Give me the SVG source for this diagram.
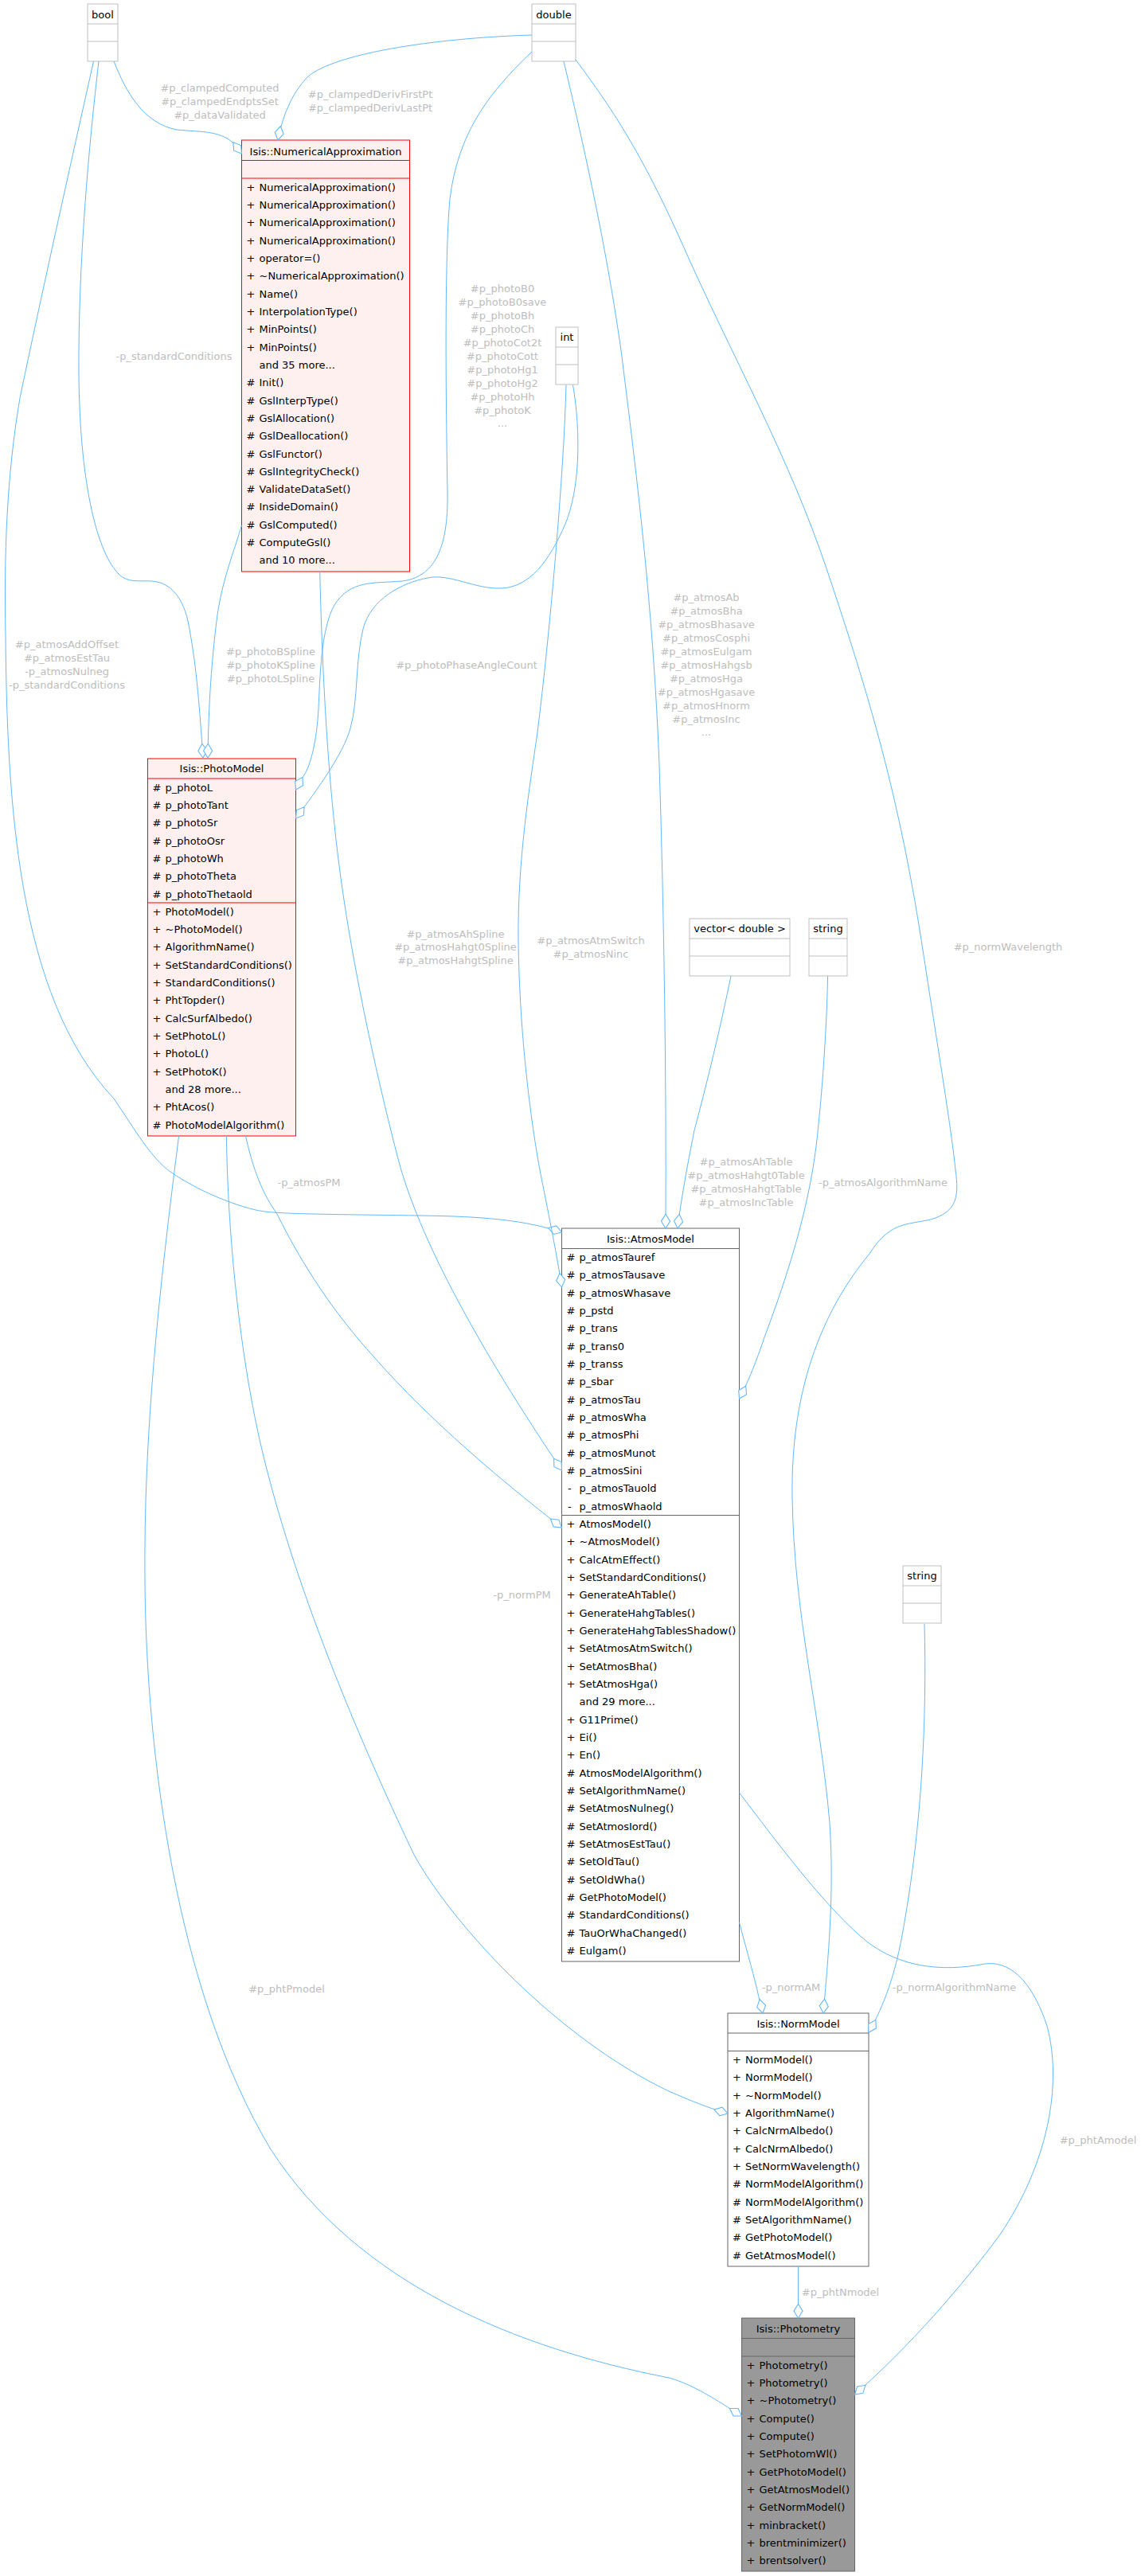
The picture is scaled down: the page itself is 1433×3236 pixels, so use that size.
<svg xmlns="http://www.w3.org/2000/svg" width="1433" height="3236" viewBox="0 0 1433 3236">
<defs>
<style>
text{font-family:"DejaVu Sans","Liberation Sans",sans-serif;font-size:13px;fill:#000}
.c{text-anchor:middle}
.l{fill:#bdbdbd;text-anchor:middle}
.ls{fill:#bdbdbd}
.tb{fill:#fff;stroke:#bfbfbf;stroke-width:1}
.tl{stroke:#bfbfbf;stroke-width:1}
.rb{fill:#fff0f0;stroke:#ff0000;stroke-width:1}
.rl{stroke:#ff0000;stroke-width:1}
.gb{fill:#fff;stroke:#666;stroke-width:1}
.gl{stroke:#666;stroke-width:1}
.pb{fill:#999;stroke:#666;stroke-width:1}
.e{fill:none;stroke:#63b8ff;stroke-width:1;marker-end:url(#od)}
</style>
<marker id="od" markerUnits="userSpaceOnUse" markerWidth="20" markerHeight="14" refX="17" refY="6" orient="auto" viewBox="0 0 18 12">
<path d="M1,6 L9,1 L17,6 L9,11 Z" fill="#fff" stroke="#63b8ff" stroke-width="1"/>
</marker>
</defs>
<rect width="1433" height="3236" fill="#fff"/>

<g id="node-bool">
<rect class="tb" x="110" y="5" width="38" height="72"/>
<line class="tl" x1="110" y1="30" x2="148" y2="30"/><line class="tl" x1="110" y1="52" x2="148" y2="52"/>
<text class="c" x="129" y="23">bool</text>
</g>
<g id="node-double">
<rect class="tb" x="668" y="5" width="55" height="72"/>
<line class="tl" x1="668" y1="30" x2="723" y2="30"/><line class="tl" x1="668" y1="52" x2="723" y2="52"/>
<text class="c" x="695.5" y="23">double</text>
</g>
<g id="node-int">
<rect class="tb" x="698" y="411" width="28" height="72"/>
<line class="tl" x1="698" y1="436" x2="726" y2="436"/><line class="tl" x1="698" y1="458" x2="726" y2="458"/>
<text class="c" x="712" y="428">int</text>
</g>
<g id="node-vector">
<rect class="tb" x="866" y="1154" width="126" height="72"/>
<line class="tl" x1="866" y1="1179" x2="992" y2="1179"/><line class="tl" x1="866" y1="1201" x2="992" y2="1201"/>
<text class="c" x="929" y="1171">vector&lt; double &gt;</text>
</g>
<g id="node-string1">
<rect class="tb" x="1016" y="1154" width="48" height="72"/>
<line class="tl" x1="1016" y1="1179" x2="1064" y2="1179"/><line class="tl" x1="1016" y1="1201" x2="1064" y2="1201"/>
<text class="c" x="1040" y="1171">string</text>
</g>
<g id="node-string2">
<rect class="tb" x="1134" y="1967" width="48" height="72"/>
<line class="tl" x1="1134" y1="1992" x2="1182" y2="1992"/><line class="tl" x1="1134" y1="2014" x2="1182" y2="2014"/>
<text class="c" x="1158" y="1984">string</text>
</g>

<g id="node-NumericalApproximation">
<rect class="rb" x="303.5" y="176" width="211" height="542"/>
<line class="rl" x1="303.5" y1="201.5" x2="514.5" y2="201.5"/><line class="rl" x1="303.5" y1="224" x2="514.5" y2="224"/>
<text class="c" x="409" y="195">Isis::NumericalApproximation</text>
<text x="309.5" y="239.5">+</text><text x="325.5" y="239.5">NumericalApproximation()</text>
<text x="309.5" y="261.8">+</text><text x="325.5" y="261.8">NumericalApproximation()</text>
<text x="309.5" y="284.2">+</text><text x="325.5" y="284.2">NumericalApproximation()</text>
<text x="309.5" y="306.5">+</text><text x="325.5" y="306.5">NumericalApproximation()</text>
<text x="309.5" y="328.8">+</text><text x="325.5" y="328.8">operator=()</text>
<text x="309.5" y="351.2">+</text><text x="325.5" y="351.2">~NumericalApproximation()</text>
<text x="309.5" y="373.5">+</text><text x="325.5" y="373.5">Name()</text>
<text x="309.5" y="395.8">+</text><text x="325.5" y="395.8">InterpolationType()</text>
<text x="309.5" y="418.1">+</text><text x="325.5" y="418.1">MinPoints()</text>
<text x="309.5" y="440.5">+</text><text x="325.5" y="440.5">MinPoints()</text>
<text x="325.5" y="462.8">and 35 more...</text>
<text x="309.5" y="485.1">#</text><text x="325.5" y="485.1">Init()</text>
<text x="309.5" y="507.5">#</text><text x="325.5" y="507.5">GslInterpType()</text>
<text x="309.5" y="529.8">#</text><text x="325.5" y="529.8">GslAllocation()</text>
<text x="309.5" y="552.1">#</text><text x="325.5" y="552.1">GslDeallocation()</text>
<text x="309.5" y="574.5">#</text><text x="325.5" y="574.5">GslFunctor()</text>
<text x="309.5" y="596.8">#</text><text x="325.5" y="596.8">GslIntegrityCheck()</text>
<text x="309.5" y="619.1">#</text><text x="325.5" y="619.1">ValidateDataSet()</text>
<text x="309.5" y="641.4">#</text><text x="325.5" y="641.4">InsideDomain()</text>
<text x="309.5" y="663.8">#</text><text x="325.5" y="663.8">GslComputed()</text>
<text x="309.5" y="686.1">#</text><text x="325.5" y="686.1">ComputeGsl()</text>
<text x="325.5" y="708.4">and 10 more...</text>
</g>

<g id="node-PhotoModel">
<rect class="rb" x="185.5" y="953" width="186" height="474"/>
<line class="rl" x1="185.5" y1="978" x2="371.5" y2="978"/><line class="rl" x1="185.5" y1="1134" x2="371.5" y2="1134"/>
<text class="c" x="278.5" y="970">Isis::PhotoModel</text>
<text x="191.5" y="993.5">#</text><text x="207.5" y="993.5">p_photoL</text>
<text x="191.5" y="1015.8">#</text><text x="207.5" y="1015.8">p_photoTant</text>
<text x="191.5" y="1038.2">#</text><text x="207.5" y="1038.2">p_photoSr</text>
<text x="191.5" y="1060.5">#</text><text x="207.5" y="1060.5">p_photoOsr</text>
<text x="191.5" y="1082.8">#</text><text x="207.5" y="1082.8">p_photoWh</text>
<text x="191.5" y="1105.2">#</text><text x="207.5" y="1105.2">p_photoTheta</text>
<text x="191.5" y="1127.5">#</text><text x="207.5" y="1127.5">p_photoThetaold</text>
<text x="191.5" y="1149.5">+</text><text x="207.5" y="1149.5">PhotoModel()</text>
<text x="191.5" y="1171.8">+</text><text x="207.5" y="1171.8">~PhotoModel()</text>
<text x="191.5" y="1194.2">+</text><text x="207.5" y="1194.2">AlgorithmName()</text>
<text x="191.5" y="1216.5">+</text><text x="207.5" y="1216.5">SetStandardConditions()</text>
<text x="191.5" y="1238.8">+</text><text x="207.5" y="1238.8">StandardConditions()</text>
<text x="191.5" y="1261.2">+</text><text x="207.5" y="1261.2">PhtTopder()</text>
<text x="191.5" y="1283.5">+</text><text x="207.5" y="1283.5">CalcSurfAlbedo()</text>
<text x="191.5" y="1305.8">+</text><text x="207.5" y="1305.8">SetPhotoL()</text>
<text x="191.5" y="1328.1">+</text><text x="207.5" y="1328.1">PhotoL()</text>
<text x="191.5" y="1350.5">+</text><text x="207.5" y="1350.5">SetPhotoK()</text>
<text x="207.5" y="1372.8">and 28 more...</text>
<text x="191.5" y="1395.1">+</text><text x="207.5" y="1395.1">PhtAcos()</text>
<text x="191.5" y="1417.5">#</text><text x="207.5" y="1417.5">PhotoModelAlgorithm()</text>
</g>

<g id="node-AtmosModel">
<rect class="gb" x="705.5" y="1543" width="223" height="921"/>
<line class="gl" x1="705.5" y1="1568.5" x2="928.5" y2="1568.5"/><line class="gl" x1="705.5" y1="1903.5" x2="928.5" y2="1903.5"/>
<text class="c" x="817" y="1560.5">Isis::AtmosModel</text>
<text x="711.5" y="1584">#</text><text x="727.5" y="1584">p_atmosTauref</text>
<text x="711.5" y="1606.3">#</text><text x="727.5" y="1606.3">p_atmosTausave</text>
<text x="711.5" y="1628.7">#</text><text x="727.5" y="1628.7">p_atmosWhasave</text>
<text x="711.5" y="1651">#</text><text x="727.5" y="1651">p_pstd</text>
<text x="711.5" y="1673.3">#</text><text x="727.5" y="1673.3">p_trans</text>
<text x="711.5" y="1695.7">#</text><text x="727.5" y="1695.7">p_trans0</text>
<text x="711.5" y="1718">#</text><text x="727.5" y="1718">p_transs</text>
<text x="711.5" y="1740.3">#</text><text x="727.5" y="1740.3">p_sbar</text>
<text x="711.5" y="1762.6">#</text><text x="727.5" y="1762.6">p_atmosTau</text>
<text x="711.5" y="1785">#</text><text x="727.5" y="1785">p_atmosWha</text>
<text x="711.5" y="1807.3">#</text><text x="727.5" y="1807.3">p_atmosPhi</text>
<text x="711.5" y="1829.6">#</text><text x="727.5" y="1829.6">p_atmosMunot</text>
<text x="711.5" y="1852">#</text><text x="727.5" y="1852">p_atmosSini</text>
<text x="713" y="1874.3">-</text><text x="727.5" y="1874.3">p_atmosTauold</text>
<text x="713" y="1896.6">-</text><text x="727.5" y="1896.6">p_atmosWhaold</text>
<text x="711.5" y="1919">+</text><text x="727.5" y="1919">AtmosModel()</text>
<text x="711.5" y="1941.3">+</text><text x="727.5" y="1941.3">~AtmosModel()</text>
<text x="711.5" y="1963.7">+</text><text x="727.5" y="1963.7">CalcAtmEffect()</text>
<text x="711.5" y="1986">+</text><text x="727.5" y="1986">SetStandardConditions()</text>
<text x="711.5" y="2008.3">+</text><text x="727.5" y="2008.3">GenerateAhTable()</text>
<text x="711.5" y="2030.7">+</text><text x="727.5" y="2030.7">GenerateHahgTables()</text>
<text x="711.5" y="2053">+</text><text x="727.5" y="2053">GenerateHahgTablesShadow()</text>
<text x="711.5" y="2075.3">+</text><text x="727.5" y="2075.3">SetAtmosAtmSwitch()</text>
<text x="711.5" y="2097.6">+</text><text x="727.5" y="2097.6">SetAtmosBha()</text>
<text x="711.5" y="2120">+</text><text x="727.5" y="2120">SetAtmosHga()</text>
<text x="727.5" y="2142.3">and 29 more...</text>
<text x="711.5" y="2164.6">+</text><text x="727.5" y="2164.6">G11Prime()</text>
<text x="711.5" y="2187">+</text><text x="727.5" y="2187">Ei()</text>
<text x="711.5" y="2209.3">+</text><text x="727.5" y="2209.3">En()</text>
<text x="711.5" y="2231.6">#</text><text x="727.5" y="2231.6">AtmosModelAlgorithm()</text>
<text x="711.5" y="2254">#</text><text x="727.5" y="2254">SetAlgorithmName()</text>
<text x="711.5" y="2276.3">#</text><text x="727.5" y="2276.3">SetAtmosNulneg()</text>
<text x="711.5" y="2298.6">#</text><text x="727.5" y="2298.6">SetAtmosIord()</text>
<text x="711.5" y="2321">#</text><text x="727.5" y="2321">SetAtmosEstTau()</text>
<text x="711.5" y="2343.3">#</text><text x="727.5" y="2343.3">SetOldTau()</text>
<text x="711.5" y="2365.6">#</text><text x="727.5" y="2365.6">SetOldWha()</text>
<text x="711.5" y="2388">#</text><text x="727.5" y="2388">GetPhotoModel()</text>
<text x="711.5" y="2410.3">#</text><text x="727.5" y="2410.3">StandardConditions()</text>
<text x="711.5" y="2432.6">#</text><text x="727.5" y="2432.6">TauOrWhaChanged()</text>
<text x="711.5" y="2455">#</text><text x="727.5" y="2455">Eulgam()</text>
</g>

<g id="node-NormModel">
<rect class="gb" x="914" y="2529" width="177" height="318"/>
<line class="gl" x1="914" y1="2554" x2="1091" y2="2554"/><line class="gl" x1="914" y1="2576.5" x2="1091" y2="2576.5"/>
<text class="c" x="1002.5" y="2546.5">Isis::NormModel</text>
<text x="920" y="2592">+</text><text x="936" y="2592">NormModel()</text>
<text x="920" y="2614.3">+</text><text x="936" y="2614.3">NormModel()</text>
<text x="920" y="2636.7">+</text><text x="936" y="2636.7">~NormModel()</text>
<text x="920" y="2659">+</text><text x="936" y="2659">AlgorithmName()</text>
<text x="920" y="2681.3">+</text><text x="936" y="2681.3">CalcNrmAlbedo()</text>
<text x="920" y="2703.7">+</text><text x="936" y="2703.7">CalcNrmAlbedo()</text>
<text x="920" y="2726">+</text><text x="936" y="2726">SetNormWavelength()</text>
<text x="920" y="2748.3">#</text><text x="936" y="2748.3">NormModelAlgorithm()</text>
<text x="920" y="2770.6">#</text><text x="936" y="2770.6">NormModelAlgorithm()</text>
<text x="920" y="2793">#</text><text x="936" y="2793">SetAlgorithmName()</text>
<text x="920" y="2815.3">#</text><text x="936" y="2815.3">GetPhotoModel()</text>
<text x="920" y="2837.6">#</text><text x="936" y="2837.6">GetAtmosModel()</text>
</g>

<g id="node-Photometry">
<rect class="pb" x="931.5" y="2912" width="142" height="318"/>
<line class="gl" x1="931.5" y1="2937.5" x2="1073.5" y2="2937.5"/><line class="gl" x1="931.5" y1="2960" x2="1073.5" y2="2960"/>
<text class="c" x="1002.5" y="2930">Isis::Photometry</text>
<text x="937.5" y="2975.5">+</text><text x="953.5" y="2975.5">Photometry()</text>
<text x="937.5" y="2997.8">+</text><text x="953.5" y="2997.8">Photometry()</text>
<text x="937.5" y="3020.2">+</text><text x="953.5" y="3020.2">~Photometry()</text>
<text x="937.5" y="3042.5">+</text><text x="953.5" y="3042.5">Compute()</text>
<text x="937.5" y="3064.8">+</text><text x="953.5" y="3064.8">Compute()</text>
<text x="937.5" y="3087.2">+</text><text x="953.5" y="3087.2">SetPhotomWl()</text>
<text x="937.5" y="3109.5">+</text><text x="953.5" y="3109.5">GetPhotoModel()</text>
<text x="937.5" y="3131.8">+</text><text x="953.5" y="3131.8">GetAtmosModel()</text>
<text x="937.5" y="3154.1">+</text><text x="953.5" y="3154.1">GetNormModel()</text>
<text x="937.5" y="3176.5">+</text><text x="953.5" y="3176.5">minbracket()</text>
<text x="937.5" y="3198.8">+</text><text x="953.5" y="3198.8">brentminimizer()</text>
<text x="937.5" y="3221.1">+</text><text x="953.5" y="3221.1">brentsolver()</text>
</g>

<g id="connectors">
<path id="e-bool-NA" class="e" d="M143,77 C158,115 180,155 222,163 C255,166 280,164 296,183 L303.5,193"/>
<path id="e-double-NA" class="e" d="M668,44 C540,48 420,68 387,96 C365,118 354,150 349,176"/>
<path id="e-bool-PM" class="e" d="M124,77 C112,180 98,330 99,470 C100,600 120,690 148,720 C160,733 175,729 190,730 C210,731 228,745 236,780 C246,830 250,880 255,952"/>
<path id="e-bool-AM" class="e" d="M117.5,77 C90,200 50,380 25,500 C8,600 5,700 7,800 C9,1000 20,1250 143,1380 C170,1420 190,1455 214,1472 C240,1490 280,1510 321,1520 C345,1525 380,1525 527,1527 C610,1528 660,1533 705.5,1548"/>
<path id="e-double-PM" class="e" d="M668,65 C610,120 575,170 565,250 C558,330 560,500 562,620 C563,690 545,725 505,730 C470,733 440,728 420,760 C403,790 402,850 400,890 C398,930 390,965 379,978 L371.5,992"/>
<path id="e-int-PM" class="e" d="M719.5,483.5 C730,545 728,615 710,658 C690,705 665,738 629,739 C595,740 565,720 537,726 C505,732 466,752 456,790 C446,830 450,880 440,915 C432,945 400,990 371.5,1028"/>
<path id="e-NA-PM" class="e" d="M303.5,660 C295,690 278,730 272,780 C266,830 262,880 261,952"/>
<path id="e-double-AM" class="e" d="M708,77 C730,170 760,300 780,440 C800,600 820,760 828,960 C834,1150 837,1350 836,1543"/>
<path id="e-NA-AM" class="e" d="M401.7,718 C404,820 410,960 425,1080 C440,1200 470,1340 500,1456 C530,1570 620,1720 705.5,1847"/>
<path id="e-int-AM" class="e" d="M711,483.5 C708,600 690,800 675,920 C665,990 650,1080 651,1180 C652,1300 668,1420 680,1480 C690,1530 700,1580 705.5,1617"/>
<path id="e-vector-AM" class="e" d="M918,1226 C905,1290 888,1360 872,1420 C862,1470 855,1510 851,1543"/>
<path id="e-string-AM" class="e" d="M1039.6,1226 C1038,1300 1032,1380 1025,1440 C1015,1520 990,1600 960,1680 C950,1710 940,1735 928.5,1757"/>
<path id="e-PM-AM" class="e" d="M308.5,1427 C318,1470 330,1500 348,1525 C380,1590 420,1650 470,1705 C540,1785 630,1860 705.5,1919"/>
<path id="e-double-NM" class="e" d="M723,75 C760,125 800,180 854,300 C920,450 990,570 1040,720 C1090,870 1130,1000 1160,1200 C1180,1330 1195,1420 1200,1470 C1205,1505 1200,1520 1175,1530 C1145,1540 1120,1530 1092,1575 C1030,1650 993,1750 995,1880 C997,2030 1030,2150 1042,2290 C1048,2380 1040,2460 1034,2529"/>
<path id="e-PM-NM" class="e" d="M284.4,1427 C286,1550 300,1680 320,1780 C350,1930 420,2120 520,2330 C570,2420 700,2560 840,2627 C870,2640 890,2648 914,2655"/>
<path id="e-AM-NM" class="e" d="M928.5,2415 C935,2440 945,2475 951,2500 C953,2510 956,2520 958,2529"/>
<path id="e-string-NM" class="e" d="M1161,2040 C1164,2160 1158,2290 1135,2420 C1125,2480 1110,2520 1091,2553"/>
<path id="e-PM-Ph" class="e" d="M224.6,1427 C200,1620 180,1800 182,1990 C184,2200 220,2500 340,2700 C450,2870 650,2950 840,2987 C870,2995 900,3015 931.5,3035"/>
<path id="e-AM-Ph" class="e" d="M928.5,2252 C980,2320 1040,2400 1090,2440 C1130,2470 1180,2478 1237,2467 C1275,2462 1300,2500 1315,2545 C1335,2620 1315,2720 1256,2807 C1210,2870 1140,2950 1073.5,3008"/>
<path id="e-NM-Ph" class="e" d="M1002.5,2847 L1002.5,2912"/>

<text class="l" x="276" y="114.5">#p_clampedComputed</text>
<text class="l" x="276" y="131.5">#p_clampedEndptsSet</text>
<text class="l" x="276" y="148.5">#p_dataValidated</text>
<text class="l" x="465" y="123">#p_clampedDerivFirstPt</text>
<text class="l" x="465" y="140">#p_clampedDerivLastPt</text>
<text class="l" x="218.5" y="451.5">-p_standardConditions</text>
<text class="l" x="84" y="814">#p_atmosAddOffset</text>
<text class="l" x="84" y="831">#p_atmosEstTau</text>
<text class="l" x="84" y="848">-p_atmosNulneg</text>
<text class="l" x="84" y="865">-p_standardConditions</text>
<text class="l" x="340" y="823">#p_photoBSpline</text>
<text class="l" x="340" y="840">#p_photoKSpline</text>
<text class="l" x="340" y="857">#p_photoLSpline</text>
<text class="l" x="586" y="840">#p_photoPhaseAngleCount</text>
<text class="l" x="631" y="366.5">#p_photoB0</text>
<text class="l" x="631" y="383.5">#p_photoB0save</text>
<text class="l" x="631" y="400.5">#p_photoBh</text>
<text class="l" x="631" y="417.5">#p_photoCh</text>
<text class="l" x="631" y="434.5">#p_photoCot2t</text>
<text class="l" x="631" y="451.5">#p_photoCott</text>
<text class="l" x="631" y="468.5">#p_photoHg1</text>
<text class="l" x="631" y="485.5">#p_photoHg2</text>
<text class="l" x="631" y="502.5">#p_photoHh</text>
<text class="l" x="631" y="519.5">#p_photoK</text>
<text class="l" x="631" y="536">...</text>
<text class="l" x="887" y="755">#p_atmosAb</text>
<text class="l" x="887" y="772">#p_atmosBha</text>
<text class="l" x="887" y="789">#p_atmosBhasave</text>
<text class="l" x="887" y="806">#p_atmosCosphi</text>
<text class="l" x="887" y="823">#p_atmosEulgam</text>
<text class="l" x="887" y="840">#p_atmosHahgsb</text>
<text class="l" x="887" y="857">#p_atmosHga</text>
<text class="l" x="887" y="874">#p_atmosHgasave</text>
<text class="l" x="887" y="891">#p_atmosHnorm</text>
<text class="l" x="887" y="908">#p_atmosInc</text>
<text class="l" x="887" y="923.5">...</text>
<text class="l" x="572" y="1177.5">#p_atmosAhSpline</text>
<text class="l" x="572" y="1194">#p_atmosHahgt0Spline</text>
<text class="l" x="572" y="1211">#p_atmosHahgtSpline</text>
<text class="l" x="742" y="1186">#p_atmosAtmSwitch</text>
<text class="l" x="742" y="1203">#p_atmosNinc</text>
<text class="l" x="1266" y="1194">#p_normWavelength</text>
<text class="l" x="937" y="1464">#p_atmosAhTable</text>
<text class="l" x="937" y="1481">#p_atmosHahgt0Table</text>
<text class="l" x="937" y="1498">#p_atmosHahgtTable</text>
<text class="l" x="937" y="1515">#p_atmosIncTable</text>
<text class="l" x="1109" y="1489.5">-p_atmosAlgorithmName</text>
<text class="l" x="388" y="1490">-p_atmosPM</text>
<text class="l" x="655.5" y="2008">-p_normPM</text>
<text class="l" x="993.5" y="2501">-p_normAM</text>
<text class="l" x="1198.5" y="2501">-p_normAlgorithmName</text>
<text class="l" x="1379" y="2692.5">#p_phtAmodel</text>
<text class="l" x="1055.5" y="2884">#p_phtNmodel</text>
<text class="l" x="360" y="2503">#p_phtPmodel</text>
</g>
</svg>
